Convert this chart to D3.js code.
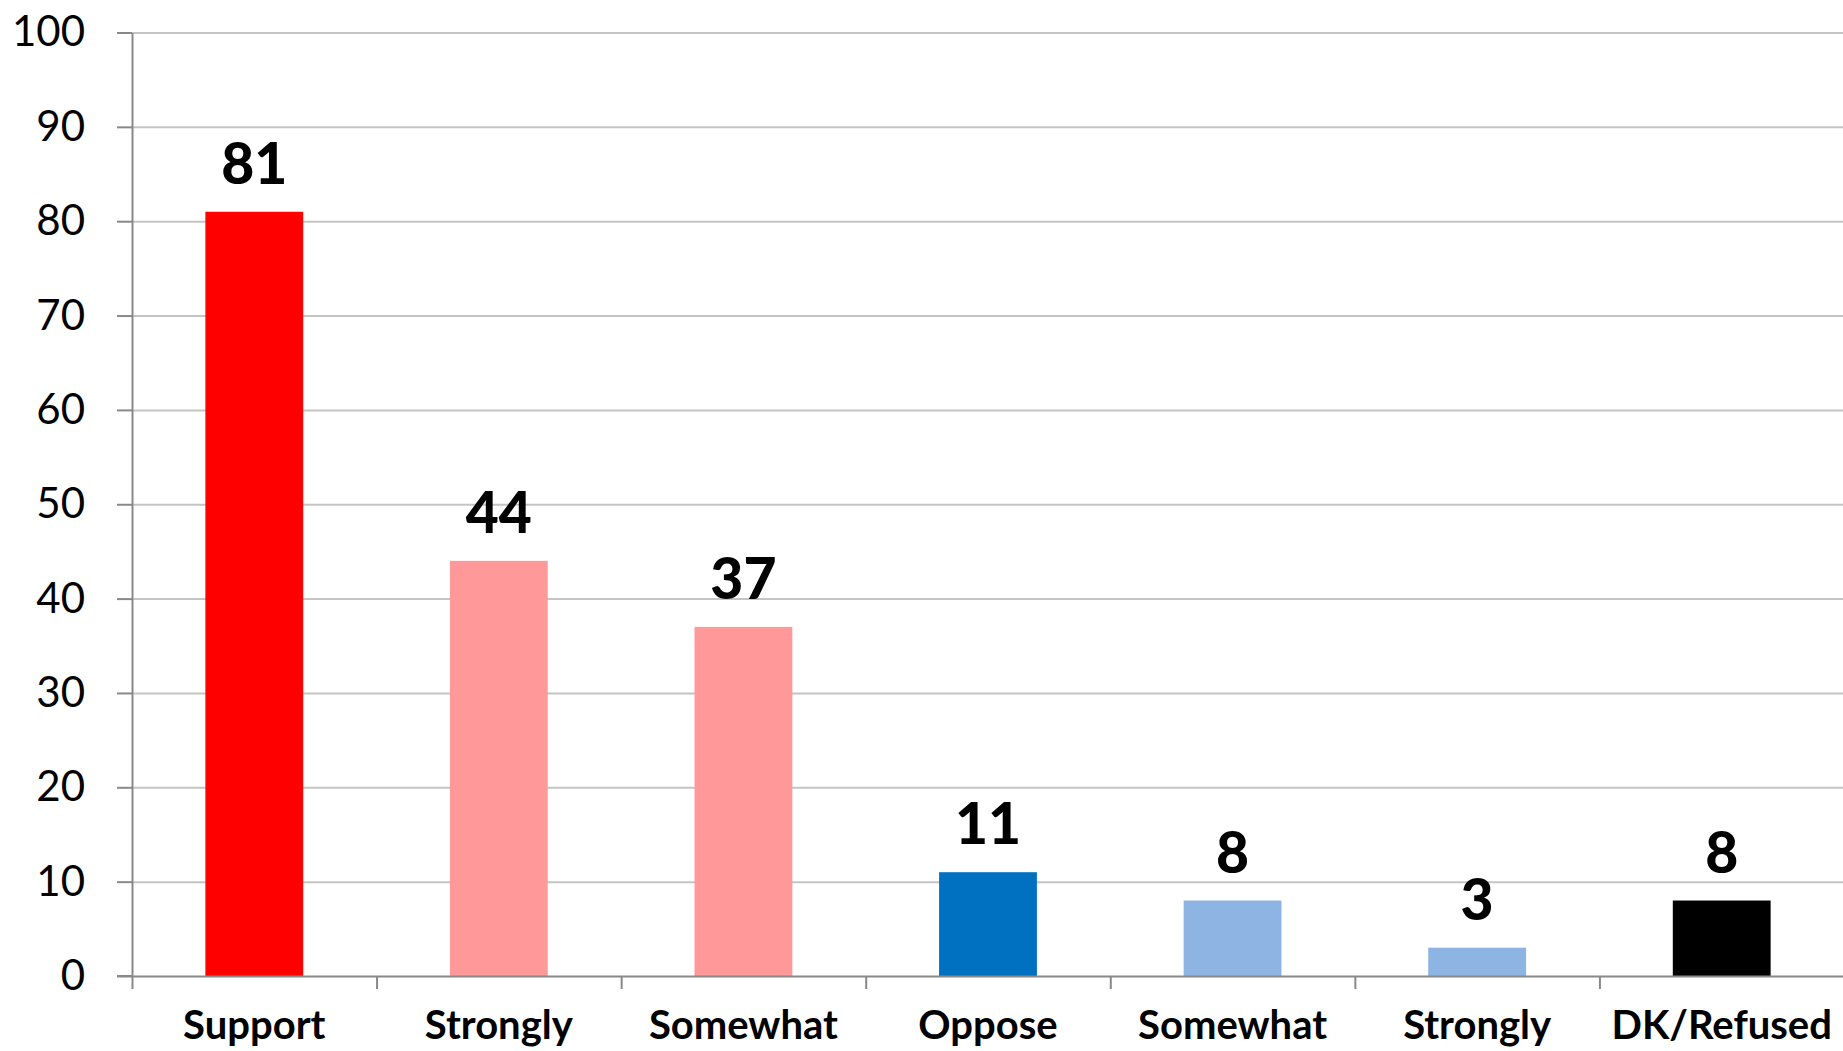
<!DOCTYPE html>
<html>
<head>
<meta charset="utf-8">
<script src="https://cdn.jsdelivr.net/npm/d3@7"></script>
<style>
  body { margin: 0; background: #fff; }
  svg text { font-family: Lato, "Open Sans", sans-serif; }
</style>
</head>
<body>
<svg id="chart" width="1843" height="1051"></svg>
<script>
// chart data
const categories = ["Support", "Strongly", "Somewhat", "Oppose", "Somewhat", "Strongly", "DK/Refused"];
const values = [81, 44, 37, 11, 8, 3, 8];
const barColors = ["#ff0000", "#ff9999", "#ff9999", "#0070c0", "#8eb4e3", "#8eb4e3", "#000000"];
const yTicks = [0, 10, 20, 30, 40, 50, 60, 70, 80, 90, 100];

const svg = d3.select("#chart");
const plotLeft = 132, plotRight = 1844, plotTop = 32.5, plotBottom = 976;

const x = d3.scaleBand()
  .domain(d3.range(categories.length))
  .range([plotLeft, plotRight])
  .paddingInner(0.6)
  .paddingOuter(0.3);

const y = d3.scaleLinear().domain([0, 100]).range([plotBottom, plotTop]);

// gridlines
svg.append("g")
  .attr("transform", `translate(${plotLeft},0)`)
  .call(d3.axisLeft(y).tickValues(yTicks.slice(1)).tickSize(-(plotRight - plotLeft)).tickFormat(""))
  .call(g => g.select(".domain").remove())
  .call(g => g.selectAll("line").attr("stroke", "#c4c4c4").attr("stroke-width", 2));

// y axis
svg.append("g")
  .attr("transform", `translate(${plotLeft},0)`)
  .call(d3.axisLeft(y).tickValues(yTicks).tickSize(15).tickSizeOuter(0).tickPadding(32))
  .call(g => g.select(".domain").attr("stroke", "#898989").attr("stroke-width", 2))
  .call(g => g.selectAll("line").attr("stroke", "#898989").attr("stroke-width", 2))
  .call(g => g.selectAll("text").attr("font-size", 42).attr("fill", "#000"));

// bars
svg.append("g").selectAll("rect")
  .data(values)
  .join("rect")
  .attr("x", (d, i) => x(i))
  .attr("y", d => y(d))
  .attr("width", x.bandwidth())
  .attr("height", d => y(0) - y(d))
  .attr("fill", (d, i) => barColors[i]);

// value labels
svg.append("g").selectAll("text")
  .data(values)
  .join("text")
  .attr("x", (d, i) => x(i) + x.bandwidth() / 2)
  .attr("y", d => y(d) - 28)
  .attr("text-anchor", "middle")
  .attr("font-size", 57)
  .attr("font-weight", 900)
  .text(d => d);

// x axis line and category boundaries
const xb = d3.scaleLinear().domain([0, categories.length]).range([plotLeft, plotRight]);
svg.append("g")
  .attr("transform", `translate(0,${plotBottom})`)
  .call(d3.axisBottom(xb).ticks(categories.length).tickSize(13).tickSizeOuter(0).tickFormat(""))
  .call(g => g.select(".domain").attr("stroke", "#898989").attr("stroke-width", 2))
  .call(g => g.selectAll("line").attr("stroke", "#898989").attr("stroke-width", 2));

svg.append("line")
  .attr("x1", plotLeft - 15).attr("x2", plotLeft)
  .attr("y1", plotBottom).attr("y2", plotBottom)
  .attr("stroke", "#898989").attr("stroke-width", 2);

// category labels
svg.append("g").selectAll("text")
  .data(categories)
  .join("text")
  .attr("x", (d, i) => x(i) + x.bandwidth() / 2)
  .attr("y", 1039)
  .attr("text-anchor", "middle")
  .attr("font-size", 40)
  .attr("font-weight", "bold")
  .text(d => d);
</script>
</body>
</html>
